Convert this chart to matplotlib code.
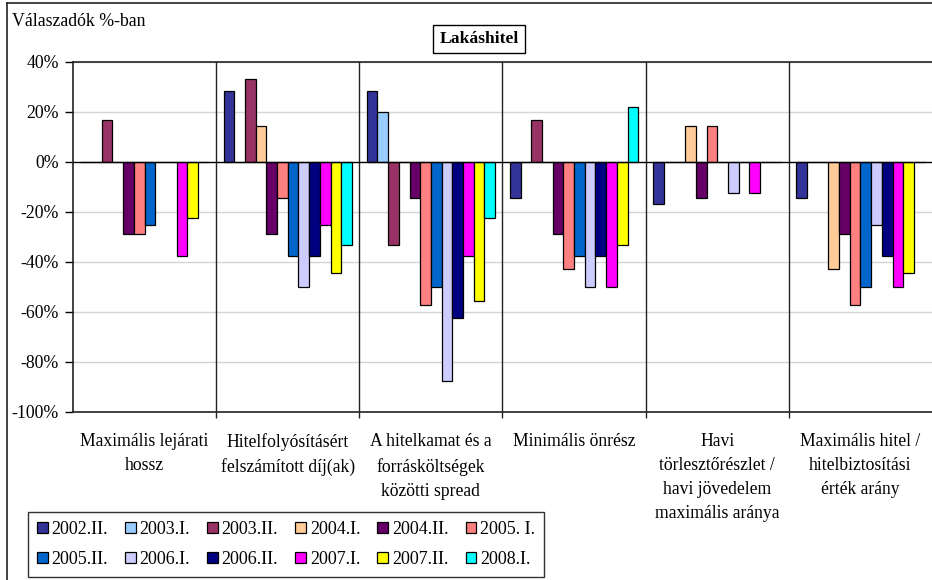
import matplotlib.pyplot as plt
import numpy as np
from matplotlib.lines import Line2D
from matplotlib.patches import Patch

plt.rcParams['font.family'] = ['Liberation Serif', 'DejaVu Serif']

kategoriak = ["Maximális lejárati\nhossz",
              "Hitelfolyósításért\nfelszámított díj(ak)",
              "A hitelkamat és a\nforrásköltségek\nközötti spread",
              "Minimális önrész",
              "Havi\ntörlesztőrészlet /\nhavi jövedelem\nmaximális aránya",
              "Maximális hitel /\nhitelbiztosítási\nérték arány"]

idoszakok = ["2002.II.", "2003.I.", "2003.II.", "2004.I.", "2004.II.", "2005. I.",
             "2005.II.", "2006.I.", "2006.II.", "2007.I.", "2007.II.", "2008.I."]

szinek = ["#333399", "#99CCFF", "#993366", "#FFCC99", "#660066", "#FF8080",
          "#0066CC", "#CCCCFF", "#000080", "#FF00FF", "#FFFF00", "#00FFFF"]

# valaszok %-ban, soronkent egy idoszak, oszloponkent egy kategoria
v2002_II = [0, 28.6, 28.6, -14.3, -16.7, -14.3]
v2003_I = [0, 0, 20.0, 0, 0, 0]
v2003_II = [16.7, 33.3, -33.3, 16.7, 0, 0]
v2004_I = [0, 14.3, 0, 0, 14.3, -42.9]
v2004_II = [-28.6, -28.6, -14.3, -28.6, -14.3, -28.6]
v2005_I = [-28.6, -14.3, -57.1, -42.9, 14.3, -57.1]
v2005_II = [-25.0, -37.5, -50.0, -37.5, 0, -50.0]
v2006_I = [0, -50.0, -87.5, -50.0, -12.5, -25.0]
v2006_II = [0, -37.5, -62.5, -37.5, 0, -37.5]
v2007_I = [-37.5, -25.0, -37.5, -50.0, -12.5, -50.0]
v2007_II = [-22.2, -44.4, -55.6, -33.3, 0, -44.4]
v2008_I = [0, -33.3, -22.2, 22.2, 0, 0]

adatok = [v2002_II, v2003_I, v2003_II, v2004_I, v2004_II, v2005_I,
          v2005_II, v2006_I, v2006_II, v2007_I, v2007_II, v2008_I]

W, H = 932, 580
fig = plt.figure(figsize=(W / 100, H / 100), dpi=100)
ax = fig.add_axes([73 / W, (H - 412) / H, (932 - 73) / W, 350 / H])

x = np.arange(len(kategoriak))
w = 0.0747
for i, (ertek, szin) in enumerate(zip(adatok, szinek)):
    ax.bar(x + (i - 5.5) * w, ertek, w, color=szin, edgecolor='black',
           linewidth=0.9, zorder=3)

ax.set_xlim(-0.5, len(kategoriak) - 0.5)
ax.set_ylim(-100, 40)
ax.set_yticks(np.arange(-100, 41, 20))
ax.set_yticklabels([f"{t}%" for t in range(-100, 41, 20)], fontsize=12.8)
ax.tick_params(axis='y', direction='out', length=6, width=1, pad=4)
# kategoriahatarok: rovid jelolok az also tengelyen
ax.set_xticks(np.arange(0.5, len(kategoriak) - 1, 1))
ax.set_xticklabels([])
ax.tick_params(axis='x', direction='out', length=4, width=1, color='#222222')

for t in range(-80, 41, 20):
    if t != 0:
        ax.axhline(t, color='#d4d4d4', linewidth=1, zorder=1)
ax.axhline(0, color='black', linewidth=1, zorder=4)
for b in np.arange(0.5, len(kategoriak) - 1, 1):
    ax.axvline(b, color='#222222', linewidth=1, zorder=2)

for s in ['left', 'top', 'bottom']:
    ax.spines[s].set_linewidth(1.2)
    ax.spines[s].set_color('#222222')
ax.spines['right'].set_visible(False)

# kategorianevek a rajzterulet alatt
for i, nev in enumerate(kategoriak):
    ax.text(i, -108.4, nev, ha='center', va='top', fontsize=12.7,
            linespacing=1.55)

# kulso keret
fig.add_artist(Line2D([7 / W, 1], [1 - 3 / H, 1 - 3 / H], color='#222222', linewidth=1.2))
fig.add_artist(Line2D([7 / W, 7 / W], [0, 1 - 3 / H], color='#222222', linewidth=1.2))

fig.text(12 / W, 1 - 22 / H, "Válaszadók %-ban", fontsize=12.8, va='center', ha='left')
fig.text(479 / W, 1 - 39 / H, "Lakáshitel", fontsize=12.6, fontweight='bold',
         ha='center', va='center',
         bbox=dict(boxstyle='square,pad=0.35', facecolor='white', edgecolor='black', linewidth=1))

# jelmagyarazat soronkent toltve
kezelok = [Patch(facecolor=c, edgecolor='black', linewidth=0.9) for c in szinek]
sorrend = [j for k in range(6) for j in (k, k + 6)]
leg = fig.legend([kezelok[j] for j in sorrend], [idoszakok[j] for j in sorrend],
                 ncol=6, loc='lower left', bbox_to_anchor=(28 / W, 3 / H),
                 borderaxespad=0, fontsize=13, frameon=True, fancybox=False,
                 edgecolor='black', handlelength=0.6, handleheight=0.6,
                 handletextpad=0.2, columnspacing=0.95, labelspacing=0.72,
                 borderpad=0.5)
leg.get_frame().set_linewidth(1)

fig.savefig("out.png", dpi=100)
